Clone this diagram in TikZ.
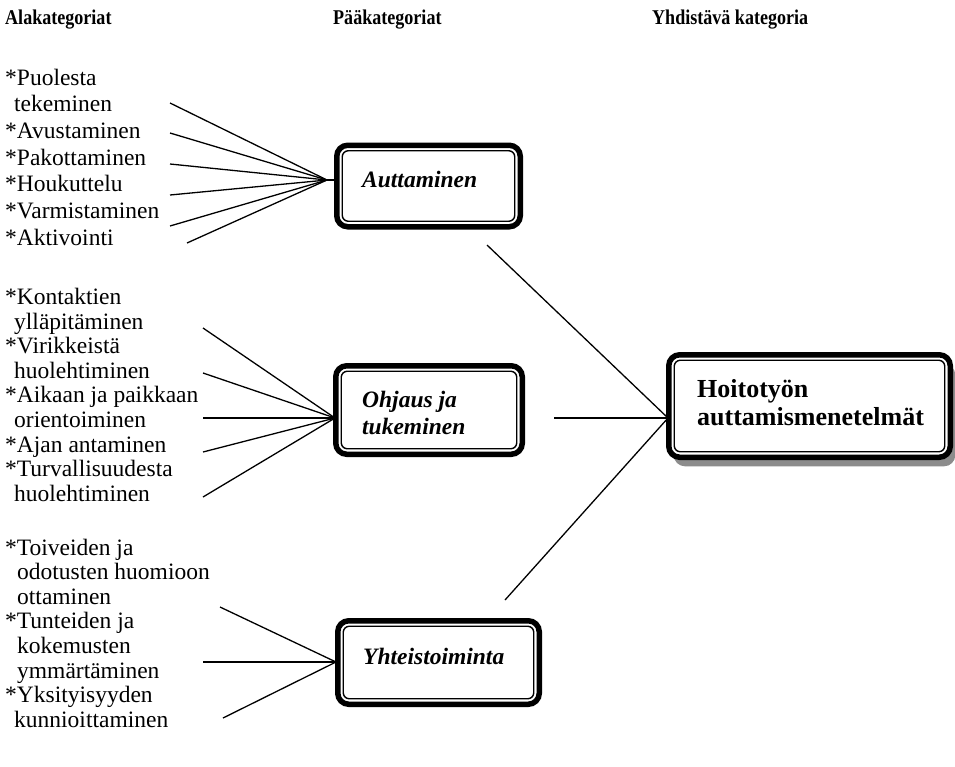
\documentclass[tikz,border=0pt]{standalone}
\usepackage{fontspec}
\setmainfont{Liberation Serif}
\newcommand\ind{\hspace*{9pt}}
\newcommand\indb{\hspace*{12pt}}
\newcommand\hdrtext[1]{\scalebox{0.86}[1]{#1}}
\begin{document}
\begin{tikzpicture}[x=1pt,y=-1pt,
  hdr/.style={anchor=base west, inner sep=0pt, font=\bfseries\fontsize{21}{24}\selectfont},
  sub/.style={anchor=base west, inner sep=0pt, font=\fontsize{23.5}{26.7}\selectfont},
  catbox/.style={draw, line width=5.5pt, rounded corners=11pt, fill=white, inner sep=0pt,
    path picture={\draw[line width=1.4pt, rounded corners=6pt]
      ([shift={(5.5pt,-5.5pt)}]path picture bounding box.north west) rectangle
      ([shift={(-5.5pt,5.5pt)}]path picture bounding box.south east);}},
  catlbl/.style={anchor=base west, inner sep=0pt, font=\bfseries\itshape\fontsize{23.5}{27}\selectfont},
  mainlbl/.style={anchor=base west, inner sep=0pt, font=\bfseries\fontsize{26}{28}\selectfont},
  link/.style={line width=1.3pt}]
\useasboundingbox (0,0) rectangle (955,766);

% column headings
\node[hdr] (h1) at (5,24) {\hdrtext{Alakategoriat}};
\node[hdr] (h2) at (333,24) {\hdrtext{Pääkategoriat}};
\node[hdr] (h3) at (652,24) {\hdrtext{Yhdistävä kategoria}};

% subcategory lists
\foreach \t [count=\i from 0] in {{*Puolesta},{\ind tekeminen},{*Avustaminen},{*Pakottaminen},{*Houkuttelu},{*Varmistaminen},{*Aktivointi}}
  \node[sub] (a\i) at (5,85+\i*26.7) {\t};
\foreach \t [count=\i from 0] in {{*Kontaktien},{\ind ylläpitäminen},{*Virikkeistä},{\ind huolehtiminen},{*Aikaan ja paikkaan},{\ind orientoiminen},{*Ajan antaminen},{*Turvallisuudesta},{\ind huolehtiminen}}
  \node[sub] (m\i) at (5,304.5+\i*24.6) {\t};
\foreach \t [count=\i from 0] in {{*Toiveiden ja},{\indb odotusten huomioon},{\indb ottaminen},{*Tunteiden ja},{\indb kokemusten},{\indb ymmärtäminen},{*Yksityisyyden},{\ind kunnioittaminen}}
  \node[sub] (c\i) at (5,555+\i*24.6) {\t};

% shadow of the combining category
\fill[black!45, rounded corners=11pt] (673.75,363.75) rectangle (955.25,466.25);

% category boxes
\node[catbox, minimum width=183.5pt, minimum height=81.5pt] (b1) at (428.5,186) {};
\node[catbox, minimum width=186.5pt, minimum height=88.5pt] (b2) at (429,410) {};
\node[catbox, minimum width=201.5pt, minimum height=83.5pt] (b3) at (438.5,662.5) {};
\node[catbox, minimum width=281.5pt, minimum height=102.5pt] (b4) at (809.5,406) {};

\node[catlbl] (l1) at (362,187) {Auttaminen};
\node[catlbl, align=left] (l2) at (362,434.5) {Ohjaus ja\\tukeminen};
\node[catlbl] (l3) at (363,664.5) {Yhteistoiminta};
\node[mainlbl, align=left] (l4) at (697,425.5) {Hoitotyön\\auttamismenetelmät};

% meeting points of the connectors
\coordinate (k1) at (327,180);
\coordinate (k2) at (335,418);
\coordinate (k3) at (336,662);
\coordinate (k4) at (668,418);

% free ends of the connectors
\foreach \y [count=\i] in {103,133,164,195,226}
  \coordinate (p\i) at (170,\y);
\coordinate (p6) at (187,243);
\foreach \y [count=\i] in {328,373,418,452,497}
  \coordinate (q\i) at (203,\y);
\coordinate (r1) at (220,607);
\coordinate (r2) at (203,662);
\coordinate (r3) at (223,718);
\coordinate (s1) at (487,245);
\coordinate (s2) at (554,418);
\coordinate (s3) at (505,600);

\foreach \i in {1,...,6} \draw[link] (p\i) -- (k1);
\draw[link] (k1) -- (k1 -| b1.west);
\foreach \i in {1,...,5} \draw[link] (q\i) -- (k2);
\foreach \i in {1,2,3} \draw[link] (r\i) -- (k3);
\foreach \i in {1,2,3} \draw[link] (s\i) -- (k4);
\end{tikzpicture}
\end{document}
